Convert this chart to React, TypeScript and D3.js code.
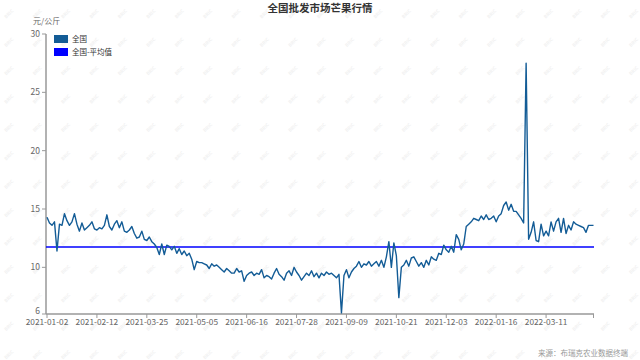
import React from "react";
import * as d3 from "d3";

const title = "全国批发市场芒果行情";
const unitLabel = "元/公斤";
const sourceLabel = "来源：布瑞克农业数据终端";
const seriesName = "全国";
const meanName = "全国-平均值";
const meanValue = 11.74;

const tickDates = [
  "2021-01-02", "2021-02-12", "2021-03-25", "2021-05-05", "2021-06-16", "2021-07-28",
  "2021-09-09", "2021-10-21", "2021-12-03", "2022-01-16", "2022-03-11",
];
const lastDate = "2022-04-23";
const yTicks = [6, 10, 15, 20, 25, 30];

const values = [
  // 2021-01-02 ..
  14.3, 13.8, 13.6, 13.9, 11.4, 13.7, 13.6, 14.6, 14.0, 13.6, 13.9, 14.6, 13.7, 13.1, 13.8, 13.2, 13.4, 13.6, 13.9, 13.3,
  // 2021-02-12 ..
  13.2, 13.4, 13.3, 13.6, 14.5, 13.5, 13.2, 13.7, 14.0, 13.4, 13.9, 13.1, 13.0, 13.2, 13.5, 12.9, 12.5, 12.6, 13.1, 12.4,
  // 2021-03-25 ..
  12.3, 12.6, 12.2, 12.0, 11.7, 11.1, 12.0, 11.1, 11.9, 11.8, 11.5, 11.8, 11.2, 11.6, 11.1, 11.4, 11.0, 11.2, 10.7, 9.8,
  // 2021-05-05 ..
  10.5, 10.4, 10.4, 10.3, 10.2, 9.9, 10.3, 10.1, 10.2, 10.0, 9.8, 9.6, 9.9, 9.7, 9.5, 9.5, 9.9, 9.6, 9.7, 8.8,
  // 2021-06-16 ..
  9.3, 9.5, 9.6, 9.3, 9.5, 9.4, 9.8, 9.1, 9.3, 9.2, 9.0, 9.5, 9.9, 9.4, 9.2, 8.9, 9.5, 9.7, 9.3, 10.0,
  // 2021-07-28 ..
  9.6, 9.3, 8.9, 9.2, 9.5, 9.3, 9.7, 9.2, 9.5, 9.1, 9.5, 9.3, 9.6, 9.4, 9.5, 9.3, 9.1, 9.4, 6.1, 9.3,
  // 2021-09-09 ..
  9.8, 9.1, 9.6, 9.9, 10.1, 10.5, 10.0, 10.3, 10.2, 10.5, 10.1, 10.3, 10.5, 10.1, 10.6, 10.0, 10.9, 12.2, 10.0, 12.1,
  // 2021-10-21 ..
  11.0, 7.4, 10.0, 10.2, 10.6, 10.1, 10.8, 10.9, 10.5, 10.1, 10.4, 10.0, 10.6, 10.2, 10.9, 10.7, 10.6, 11.2, 11.1, 11.9,
  // 2021-12-03 ..
  11.5, 11.3, 11.8, 11.3, 12.8, 12.4, 11.5, 12.0, 13.5, 13.7, 13.9, 14.2, 14.1, 14.0, 14.4, 14.1, 14.5, 14.1, 14.2, 14.4,
  // 2022-01-16 ..
  13.9, 14.4, 14.6, 15.3, 15.6, 14.9, 15.4, 14.8, 14.8, 14.5, 14.2, 13.8, 27.5, 12.4, 13.0, 13.9, 12.3, 12.2, 13.7, 12.7,
  // 2022-03-11 ..
  13.1, 12.7, 13.9, 13.1, 13.9, 14.2, 13.0, 14.2, 12.9, 13.6, 13.2, 13.9, 13.7, 13.6, 13.5, 13.4, 13.0, 13.6, 13.6, 13.6,
];

const perInterval = 20;
const parse = d3.utcParse("%Y-%m-%d");
const fmt = d3.utcFormat("%Y-%m-%d");

function buildCategories(): string[] {
  const out: string[] = [];
  for (let s = 0; s < tickDates.length; s++) {
    const start = parse(tickDates[s]) as Date;
    const isLast = s === tickDates.length - 1;
    const end = parse(isLast ? lastDate : tickDates[s + 1]) as Date;
    const count = isLast ? values.length - s * perInterval : perInterval;
    const spanDays = d3.utcDay.count(start, end);
    const denom = isLast ? Math.max(1, count - 1) : perInterval;
    for (let j = 0; j < count; j++) {
      out.push(fmt(d3.utcDay.offset(start, Math.round((j * spanDays) / denom))));
    }
  }
  return out;
}

const categories = buildCategories();
const data = values.map((v, i) => ({ date: categories[i], value: v }));

const W = 640;
const H = 360;
const font = "'Noto Sans CJK SC', 'Noto Sans', sans-serif";

export default function App() {
  const x = d3.scalePoint<string>().domain(categories).range([47, 593.5]);
  const y = d3.scaleLinear().domain([6, 30]).range([314, 34]);

  const line = d3
    .line<{ date: string; value: number }>()
    .x((d) => x(d.date) as number)
    .y((d) => y(d.value));

  const axisY0 = y(6);
  const axisX0 = 46;
  const axisX1 = 594;

  const marks: { x: number; y: number }[] = [];
  for (let gx = 10; gx < W; gx += 28.4) {
    for (let gy = 15; gy < H; gy += 28.4) {
      marks.push({ x: gx, y: gy });
    }
  }

  return (
    <svg
      width={W}
      height={H}
      style={{ position: "absolute", left: 0, top: 0, background: "#fff" }}
      fontFamily={font}
    >
      <rect x={0} y={0} width={W} height={H} fill="#ffffff" />
      <g fill="#f1f1f1" fontSize={4.5} fontWeight="bold">
        {marks.map((m, i) => (
          <text key={i} x={m.x} y={m.y} transform={`rotate(-45 ${m.x} ${m.y})`} textAnchor="middle">
            BRIC
          </text>
        ))}
      </g>

      <text x={320} y={12} textAnchor="middle" fontSize={10.5} fontWeight="bold" fill="#333">
        {title}
      </text>

      <text x={33} y={24} fontSize={8} fill="#666">
        {unitLabel}
      </text>

      {/* Y axis */}
      <line x1={axisX0} x2={axisX0} y1={y(30)} y2={axisY0} stroke="#999" strokeWidth={1.5} />
      {yTicks.map((t) => (
        <g key={t}>
          <line x1={axisX0 - 4} x2={axisX0} y1={y(t)} y2={y(t)} stroke="#999" strokeWidth={1} />
          <text x={40} y={t === 6 ? y(t) - 2.5 : y(t)} dy="0.35em" textAnchor="end" fontSize={8.5} fill="#666">
            {t}
          </text>
        </g>
      ))}

      {/* X axis */}
      <line x1={axisX0} x2={axisX1} y1={axisY0} y2={axisY0} stroke="#999" strokeWidth={1.5} />
      {tickDates.map((c) => (
        <g key={c}>
          <line x1={x(c)} x2={x(c)} y1={axisY0} y2={axisY0 + 4} stroke="#999" strokeWidth={1} />
          <text x={x(c)} y={325} textAnchor="middle" fontSize={8.3} fill="#666">
            {c}
          </text>
        </g>
      ))}
      <line
        x1={x(categories[categories.length - 1])}
        x2={x(categories[categories.length - 1])}
        y1={axisY0}
        y2={axisY0 + 4}
        stroke="#999"
        strokeWidth={1}
      />

      {/* mean line */}
      <line x1={axisX0} x2={axisX1} y1={y(meanValue)} y2={y(meanValue)} stroke="#0000ff" strokeWidth={1.5} />

      {/* series */}
      <path d={line(data) || ""} fill="none" stroke="#135c96" strokeWidth={1.4} strokeLinejoin="round" />

      {/* legend */}
      <rect x={54} y={35} width={14} height={8} fill="#135c96" />
      <text x={72} y={39} dy="0.35em" fontSize={7.5} fill="#333">
        {seriesName}
      </text>
      <rect x={54} y={48} width={14} height={8} fill="#0000ff" />
      <text x={72} y={52} dy="0.35em" fontSize={7.5} fill="#333">
        {meanName}
      </text>

      <text x={628} y={356} textAnchor="end" fontSize={7.5} fill="#999">
        {sourceLabel}
      </text>
    </svg>
  );
}
